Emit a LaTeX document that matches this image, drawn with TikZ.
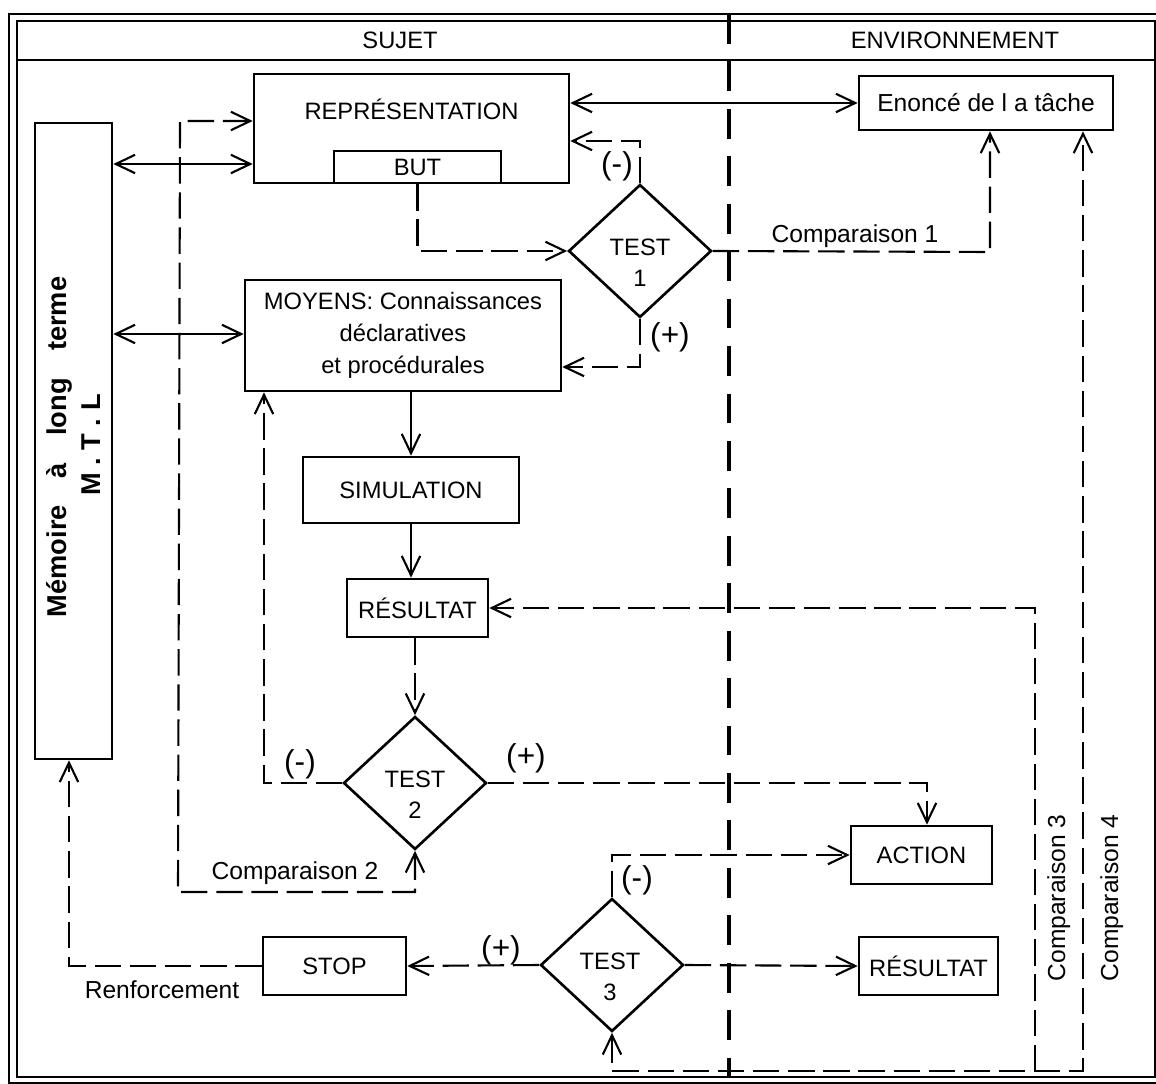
\documentclass[tikz,border=0pt]{standalone}
\usepackage{fontspec}
\setmainfont{Liberation Sans}
\usetikzlibrary{arrows.meta,shapes.geometric,calc}

\begin{document}
\begin{tikzpicture}[x=0.02cm,y=-0.02cm,
  >={Straight Barb[length=11pt,width=10.5pt]},
  box/.style={draw, line width=1.5pt, rectangle, inner sep=0pt,
    font=\fontsize{13.5}{16}\selectfont},
  test/.style={draw, line width=1.5pt, diamond, inner sep=0pt,
    minimum width=2.86cm, minimum height=2.66cm},
  testtxt/.style={align=center, inner sep=0pt,
    font=\fontsize{13.5}{17.6}\selectfont},
  boxtxt/.style={inner sep=0pt, font=\fontsize{13.5}{16}\selectfont},
  lbl/.style={inner sep=0pt, font=\fontsize{14}{16}\selectfont},
  vlbl/.style={lbl, rotate=90, anchor=base},
  sign/.style={inner sep=0pt, font=\fontsize{18}{20}\selectfont},
  head/.style={inner sep=0pt, font=\fontsize{13.5}{16}\selectfont},
  mtltxt/.style={rotate=90, anchor=base, inner sep=0pt,
    font=\bfseries\fontsize{15.5}{17}\selectfont},
  link/.style={line width=1.2pt},
  dlink/.style={line width=1.2pt, dash pattern=on 15pt off 5pt},
]
\useasboundingbox (0,0) rectangle (1156,1084);
\clip (0,0) rectangle (1156,1084);

% double frame, header row and SUJET / ENVIRONNEMENT divider
\draw[line width=1.3pt] (9,14) rectangle (1165,1083);
\draw[line width=1.3pt] (17,21) rectangle (1155,1077);
\draw[line width=1.5pt] (17,60) -- (1155,60);
\draw[line width=2.8pt, dash pattern=on 17pt off 10pt] (729,14) -- (729,1077);
\node[head] (sujet) at (400,40) {SUJET};
\node[head] (env) at (955,40) {ENVIRONNEMENT};

% boxes
\node[box, minimum width=6.3cm, minimum height=2.18cm] (rep) at (411.5,128.5) {};
\node[boxtxt] (reptxt) at (411.5,109) {REPRÉSENTATION};
\node[box, minimum width=3.34cm, minimum height=0.64cm] (but) at (417.5,167) {BUT};
\node[box, minimum width=5.08cm, minimum height=1.08cm,
  font=\fontsize{14}{16}\selectfont] (enonce) at (986,103) {Enoncé de l a tâche};
\node[box, minimum width=1.54cm, minimum height=12.72cm] (mtl) at (73.5,441) {};
\node[mtltxt] (mtl1) at (66,447) {Mémoire\hspace{1em}à\hspace{1em}long\hspace{1em}terme};
\node[mtltxt] (mtl2) at (100,445) {M . T . L};
\node[box, minimum width=6.32cm, minimum height=2.22cm, align=center,
  font=\fontsize{13.5}{18.2}\selectfont] (moy) at (403,335.5)
  {MOYENS: Connaissances\\déclaratives\\et procédurales};
\node[box, minimum width=4.32cm, minimum height=1.32cm] (sim) at (411,490) {SIMULATION};
\node[box, minimum width=2.82cm, minimum height=1.16cm] (res) at (417.5,608) {RÉSULTAT};
\node[box, minimum width=2.82cm, minimum height=1.16cm] (act) at (921.5,855) {ACTION};
\node[box, minimum width=2.78cm, minimum height=1.16cm] (res2) at (928.5,966) {RÉSULTAT};
\node[box, minimum width=2.86cm, minimum height=1.16cm] (stop) at (334.5,966) {STOP};

% tests
\node[test] (t1) at (640,251) {};
\node[testtxt] (t1txt) at (640,263) {TEST\\1};
\node[test] (t2) at (415,783) {};
\node[testtxt] (t2txt) at (415,795) {TEST\\2};
\node[test] (t3) at (612,965) {};
\node[testtxt] (t3txt) at (610,977) {TEST\\3};

% bend points
\coordinate (m1) at (0,164);
\coordinate (m2) at (0,334);
\coordinate (c2top) at (180,121);
\coordinate (c2bot) at (178,892);
\coordinate (t1m) at (0,141);
\coordinate (t1p) at (0,367);
\coordinate (c1) at (990,252);
\coordinate (t2m) at (264,783);
\coordinate (t2p) at (927,783);
\coordinate (rf) at (69,966);
\coordinate (c3b) at (1035,1071);
\coordinate (c4b) at (1083,1071);

% solid links
\draw[link,<->] (rep.east |- enonce.west) -- (enonce.west);
\draw[link,<->] (mtl.east |- m1) -- (rep.west |- m1);
\draw[link,<->] (mtl.east |- m2) -- (moy.west |- m2);
\draw[link,->] (sim.north |- moy.south) -- (sim.north);
\draw[link,->] (sim.south) -- (sim.south |- res.north);

% dashed links
\draw[dlink,<->] (rep.west |- c2top) -- (c2top) -- (c2bot) -- (t2.south |- c2bot) -- (t2.south);
\draw[dlink,->] (but.south) -- (but.south |- t1.west) -- (t1.west);
\draw[dlink,->] (t1.north) -- (t1.north |- t1m) -- (rep.east |- t1m);
\draw[dlink,->] (t1.south) -- (t1.south |- t1p) -- (moy.east |- t1p);
\draw[dlink,->] (t1.east) -- (c1) -- (c1 |- enonce.south);
\draw[dlink,->] (res.south -| t2.north) -- (t2.north);
\draw[dlink,->] (t2.west) -- (t2m) -- (t2m |- moy.south);
\draw[dlink,->] (t2.east) -- (t2p) -- (t2p |- act.north);
\draw[dlink,->] (t3.north) -- (t3.north |- act.west) -- (act.west);
\draw[dlink,->] (t3.east) -- (res2.west);
\draw[dlink,->] (t3.west) -- (stop.east);
\draw[dlink,->] (stop.west) -- (rf) -- (rf |- mtl.south);
\draw[dlink,<->] (t3.south) -- (t3.south |- c4b) -- (c4b) -- (c4b |- enonce.south);
\draw[dlink,->] (c3b) -- (c3b |- res.east) -- (res.east);

% labels
\node[sign] (t1minus) at (617,166) {(-)};
\node[sign] (t1plus) at (670,337) {(+)};
\node[sign] (t2minus) at (300,764) {(-)};
\node[sign] (t2plus) at (526,758) {(+)};
\node[sign] (t3minus) at (637,880) {(-)};
\node[sign] (t3plus) at (501,950) {(+)};
\node[lbl] (comp1) at (855,236) {Comparaison 1};
\node[lbl] (comp2) at (295,873) {Comparaison 2};
\node[vlbl] (comp3) at (1065,898) {Comparaison 3};
\node[vlbl] (comp4) at (1118,898) {Comparaison 4};
\node[lbl] (renf) at (162,990) {Renforcement};
\end{tikzpicture}
\end{document}
